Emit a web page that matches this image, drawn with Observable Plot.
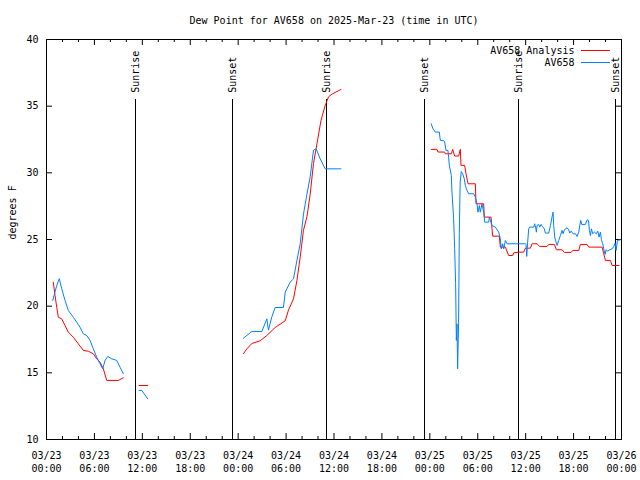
<!DOCTYPE html>
<html><head><meta charset="utf-8">
<script src="https://cdn.jsdelivr.net/npm/d3@7"></script>
<script src="https://cdn.jsdelivr.net/npm/@observablehq/plot@0.6"></script>
<style>
html,body{margin:0;padding:0;background:#fff;}
#chart svg{display:block;}
</style></head><body><div id="chart"></div>
<script>
const title = "Dew Point for AV658 on 2025-Mar-23 (time in UTC)";
const yLabel = "degrees F";
const seriesNames = ["AV658 Analysis", "AV658"];
const seriesColors = ["#ff0000", "#0080ff"];
const startUTC = Date.UTC(2025, 2, 23); // hours below are counted from 03/23 00:00 UTC

// AV658 Analysis (red); null = gap
const analysisHours = [0.85,1.07,1.28,1.48,1.90,2.32,2.73,3.36,3.98,4.61,5.24,5.86,6.29,6.70,7.12,7.54,9.00,9.62,null,
  11.59,12.68,null,
  24.66,25.09,25.71,26.75,27.59,28.63,29.89,30.30,30.93,31.35,31.77,32.18,32.61,33.02,33.43,33.93,34.36,34.90,35.31,35.74,36.37,36.87,null,
  48.18,48.89,49.02,49.85,49.94,50.69,50.86,51.11,51.61,51.82,51.90,52.36,52.53,52.78,53.70,53.78,54.74,54.82,55.66,55.87,56.70,56.83,57.46,57.87,58.38,58.50,59.21,59.75,59.96,60.59,60.80,61.42,61.76,62.68,62.89,63.60,63.85,64.56,64.85,65.69,65.89,66.65,66.85,67.69,67.90,69.57,69.78,69.99,70.61,70.82,71.70];
const analysisDew = [21.80,20.80,19.92,19.17,19.05,18.55,18.05,17.67,17.18,16.68,16.62,16.43,16.05,15.80,15.30,14.43,14.43,14.63,null,
  14.05,14.05,null,
  16.43,16.80,17.20,17.40,17.80,18.40,18.90,19.70,20.55,21.90,23.70,25.70,26.70,28.40,30.70,32.40,33.90,35.05,35.70,35.90,36.10,36.25,null,
  31.76,31.76,31.56,31.56,31.43,31.43,31.76,31.26,31.26,31.76,30.56,30.56,29.93,29.18,29.18,27.68,27.68,26.68,26.68,25.25,25.25,24.43,24.43,23.80,23.80,24.00,24.05,24.05,24.35,24.35,24.68,24.68,24.48,24.48,24.63,24.63,24.23,24.23,24.03,24.03,24.18,24.18,24.63,24.63,24.43,24.43,23.93,23.43,23.43,23.05,23.05];

// AV658 observations (blue); null = gap
const obsHours = [0.78,1.28,1.60,1.90,2.32,2.73,3.36,4.20,4.61,5.04,5.45,5.86,6.29,6.70,7.04,7.33,7.67,8.17,8.80,9.21,9.62,null,
  11.59,11.93,12.68,null,
  24.66,25.71,26.97,27.59,27.79,28.22,28.63,29.67,29.89,30.51,30.93,31.35,31.77,32.18,32.61,33.02,33.43,33.77,34.27,34.90,36.87,null,
  48.18,48.35,48.68,49.19,49.31,49.73,49.86,50.02,50.27,50.35,50.44,50.69,50.77,50.98,51.11,51.23,51.32,51.40,51.48,51.60,51.69,51.80,51.94,52.11,52.32,52.44,52.65,52.86,53.49,53.70,53.91,54.03,54.20,54.32,54.53,54.74,54.87,55.37,55.45,55.78,56.20,56.62,56.83,56.95,57.12,57.25,57.46,57.67,59.96,60.05,60.13,60.25,60.38,60.51,61.01,61.13,61.26,61.34,61.42,61.63,61.76,61.93,62.09,62.34,62.47,62.89,63.10,63.30,63.43,63.51,63.64,63.81,63.93,64.14,64.35,64.56,64.68,64.85,65.18,65.39,65.52,65.69,65.94,66.23,66.44,66.65,66.77,66.90,67.02,67.48,67.69,67.86,67.98,68.11,68.23,68.40,68.61,68.86,69.03,69.19,69.36,69.49,69.65,69.78,69.95,70.07,70.28,70.53,70.82,71.03,71.20,71.32,71.49,71.87];
const obsDew = [20.43,21.55,22.06,21.31,20.43,19.68,19.17,18.42,17.93,17.80,17.43,16.80,16.17,15.68,15.30,15.93,16.23,16.05,15.93,15.42,14.93,null,
  13.68,13.68,13.05,null,
  17.60,18.10,18.10,19.05,18.20,19.20,19.90,19.90,21.05,21.80,22.05,23.40,24.70,26.90,28.40,29.70,31.70,31.80,31.05,30.30,30.30,null,
  33.68,33.36,33.06,33.06,32.43,32.43,32.31,31.68,31.68,31.18,30.56,29.81,28.56,26.56,24.30,21.68,17.43,18.68,15.30,18.68,25.43,29.30,30.10,29.93,29.55,29.05,28.68,28.43,28.43,28.18,27.68,27.05,27.55,27.05,27.68,27.05,26.30,26.30,26.68,26.05,25.93,25.55,25.05,24.30,24.68,24.30,24.93,24.68,24.68,24.63,23.73,24.80,25.80,25.93,25.93,26.18,25.88,25.55,26.05,26.13,25.93,26.13,25.98,25.80,25.48,25.48,26.05,26.68,27.05,26.05,25.18,24.80,24.55,24.93,25.30,25.68,25.43,25.73,25.88,25.73,25.48,25.63,25.43,25.43,25.23,25.55,26.05,26.43,26.13,26.13,26.48,26.43,25.68,25.30,25.80,25.43,25.55,25.43,25.63,25.18,25.55,24.98,24.68,24.30,23.88,24.23,24.13,24.23,24.30,24.48,24.73,24.18,24.93,24.98];

// Sunrise / sunset markers
const sunHours = [11.14, 23.29, 35.06, 47.33, 59.10, 71.25];
const sunLabels = ["Sunrise", "Sunset", "Sunrise", "Sunset", "Sunrise", "Sunset"];
const sunLineTop = 35.5;
const sunLabelStart = 36;

// Axis ticks
const xMajorHours = [0, 6, 12, 18, 24, 30, 36, 42, 48, 54, 60, 66, 72];
const xMinorHours = [2, 4, 8, 10, 14, 16, 20, 22, 26, 28, 32, 34, 38, 40, 44, 46, 50, 52, 56, 58, 62, 64, 68, 70];
const yTicks = [10, 15, 20, 25, 30, 35, 40];

// ---- build ----
const toDate = h => h == null ? null : new Date(startUTC + h * 3600e3);
const analysis = analysisHours.map((h, i) => ({t: toDate(h), v: analysisDew[i]}));
const obs = obsHours.map((h, i) => ({t: toDate(h), v: obsDew[i]}));
const sun = sunHours.map((h, i) => ({t: toDate(h), label: sunLabels[i], y: sunLabelStart}));
const xMajor = xMajorHours.map(toDate);
const xMinor = xMinorHours.map(toDate);
const yInner = yTicks.slice(1, -1);

const W = 640, H = 480, mL = 46, mR = 19, mT = 39, mB = 41;
const fw = W - mL - mR, fh = H - mT - mB;
const fmt = d3.utcFormat("%m/%d\n%H:%M");

const plot = Plot.plot({
  width: W, height: H,
  marginLeft: mL, marginRight: mR, marginTop: mT, marginBottom: mB,
  style: {fontFamily: "'DejaVu Sans Mono', monospace", fontSize: "10px", color: "#000", background: "#fff"},
  x: {type: "utc", domain: [toDate(0), toDate(72)]},
  y: {domain: [10, 40]},
  marks: [
    Plot.axisX({ticks: xMajor, tickSize: 0, tickPadding: 10, tickFormat: fmt, label: null, lineHeight: 1.3}),
    Plot.axisY({ticks: yTicks, tickSize: 0, tickPadding: 8, label: null}),
    // inward ticks (bottom/top, left/right)
    Plot.ruleX(xMajor, {x: d => d, insetTop: fh - 6, stroke: "#000"}),
    Plot.ruleX(xMinor, {x: d => d, insetTop: fh - 3, stroke: "#000"}),
    Plot.ruleX(xMajor, {x: d => d, insetBottom: fh - 6, stroke: "#000"}),
    Plot.ruleX(xMinor, {x: d => d, insetBottom: fh - 3, stroke: "#000"}),
    Plot.ruleY(yInner, {y: d => d, insetRight: fw - 6, stroke: "#000"}),
    Plot.ruleY(yInner, {y: d => d, insetLeft: fw - 6, stroke: "#000"}),
    // sunrise / sunset
    Plot.ruleX(sun, {x: "t", y1: 10, y2: sunLineTop, stroke: "#000", shapeRendering: "crispEdges"}),
    Plot.text(sun, {x: "t", y: "y", text: "label", rotate: -90, textAnchor: "start", lineAnchor: "middle", fill: "#000"}),
    // series
    Plot.line(analysis, {x: "t", y: "v", stroke: seriesColors[0], strokeWidth: 1}),
    Plot.line(obs, {x: "t", y: "v", stroke: seriesColors[1], strokeWidth: 1}),
    Plot.frame({stroke: "#000", shapeRendering: "crispEdges"}),
    // title, y label, legend text
    Plot.text([title], {text: d => d, frameAnchor: "top", dy: -19, lineAnchor: "middle", fill: "#000"}),
    Plot.text([yLabel], {text: d => d, frameAnchor: "left", dx: -34, rotate: -90, lineAnchor: "middle", fill: "#000"}),
    Plot.text([seriesNames[0]], {text: d => d, frameAnchor: "top-right", dx: -47, dy: 11, textAnchor: "end", lineAnchor: "middle", fill: "#000"}),
    Plot.text([seriesNames[1]], {text: d => d, frameAnchor: "top-right", dx: -47, dy: 23, textAnchor: "end", lineAnchor: "middle", fill: "#000"})
  ]
});

// legend swatches
const svg = d3.select(plot);
const lx1 = W - mR - 40, lx2 = W - mR - 11;
[[seriesColors[0], mT + 11.5], [seriesColors[1], mT + 23.5]].forEach(([c, y]) => {
  svg.append("line").attr("x1", lx1).attr("x2", lx2).attr("y1", y).attr("y2", y)
    .attr("stroke", c).attr("stroke-width", 1).attr("shape-rendering", "crispEdges");
});

document.getElementById("chart").appendChild(plot);
</script></body></html>
